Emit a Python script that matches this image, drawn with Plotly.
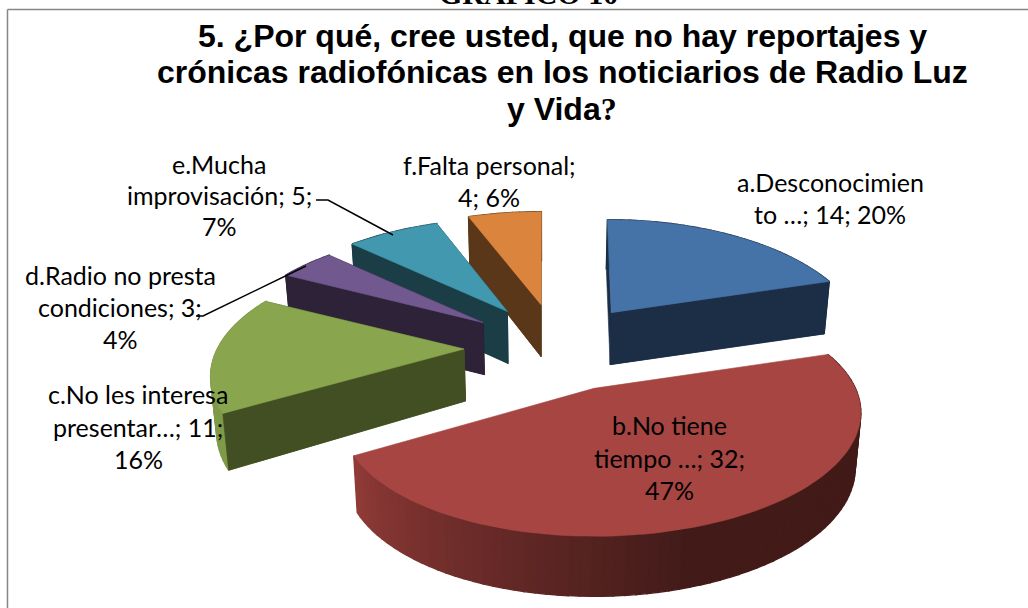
import math
import plotly.graph_objects as go

# ---- data ----
categories = ["a.Desconocimiento …", "b.No tiene tiempo …", "c.No les interesa presentar…",
              "d.Radio no presta condiciones", "e.Mucha improvisación", "f.Falta personal"]
values = [14, 32, 11, 3, 5, 4]
percent_labels = ["20%", "47%", "16%", "4%", "7%", "6%"]
label_lines = [
    ["a.Desconocimien", "to …; 14; 20%"],
    ["b.No tiene", "tiempo …; 32;", "47%"],
    ["c.No les interesa", "presentar…; 11;", "16%"],
    ["d.Radio no presta", "condiciones; 3;", "4%"],
    ["e.Mucha", "improvisación; 5;", "7%"],
    ["f.Falta personal;", "4; 6%"],
]
title_lines = ["5. ¿Por qué, cree usted, que no hay reportajes y",
               "crónicas radiofónicas en los noticiarios de Radio Luz",
               "y Vida<span style=\"font-family:Liberation Serif\">?</span>"]

# ---- style ----
top_colors = ["#4572A7", "#A64542", "#89A54E", "#71588F", "#4198AF", "#DB843D"]
wall_colors = ["#1B2E46", "#421B19", "#414F22", "#2D2237", "#1A3D46", "#5A3719"]
rim_colors = ["#1B2E46", None, "#7F9A48", "#2D2237", "#1A3D46", "#5A3719"]
pull_x = [108, 118, 83, 78, 71, 33]
rim_scale = [0.985, 1.02, 0.995, 1, 1, 1]
rim_dx = [0, 7, 0, 0, 0, 0]
rim_shear = [0, 0.012, 0, 0, 0, 0]
rim_skew = [0.06, 0, 0, 0.06, 0.06, 0.06]
draw_walls = [True, False, True, True, True, True]
label_centers = [(830, [182, 214]), (669, [425, 458, 490]), (138, [394, 427, 459]),
                 (120, [275, 307, 339]), (219, [164, 195, 226]), (489, [165, 197])]
title_center, title_ys = 562, [36, 72, 109]
paint_order = [0, 5, 4, 3, 2, 1]
CX, CY, PULL_Y = 547, 348, 44
A, B, Q = 248, 114.2, 0.228
THICK, SHRINK = 54, 0.018

total = sum(values)
edges = [0]
for v in values:
    edges.append(edges[-1] + v / total * 360)


def rim_top(ax, ay, deg, i):
    t = math.radians(deg)
    d = 1 + Q * math.cos(t)
    dx = A * rim_scale[i] * math.sin(t) / d
    x = ax + rim_dx[i] + dx - rim_skew[i] * (ax - CX) * math.cos(t)
    return x, ay - B * math.cos(t) / d - rim_shear[i] * dx


def drop(x, y, deg=None):
    h = THICK / (1 + 0.1 * math.cos(math.radians(deg))) if deg is not None else 52
    return x - SHRINK * (x - CX), y + h


def red_shade(deg):
    # side wall of the large slice darkens from its left end to the front
    f = max(0.0, min(1.0, (deg - 165) / 75))
    c0, c1 = (66, 27, 25), (145, 59, 56)
    return "rgb(%d,%d,%d)" % tuple(round(a + (b - a) * f) for a, b in zip(c0, c1))


def poly(xs, ys, color, name, width=0.6):
    return go.Scatter(x=xs, y=ys, mode="lines", fill="toself", fillcolor=color,
                      line=dict(color=color, width=width), hoverinfo="skip",
                      showlegend=False, name=name)


fig = go.Figure()
for i in paint_order:
    s, e = edges[i], edges[i + 1]
    mid = math.radians((s + e) / 2)
    ax = CX + pull_x[i] * math.sin(mid)
    ay = CY - PULL_Y * math.cos(mid)
    n = max(4, int((e - s) / 2))
    degs = [s + (e - s) * k / n for k in range(n + 1)]
    top = [rim_top(ax, ay, d, i) for d in degs]
    bot = [drop(*p, d) for p, d in zip(top, degs)]
    abot = drop(ax, ay)
    if draw_walls[i]:
        for p, b in ((top[0], bot[0]), (top[-1], bot[-1])):
            fig.add_trace(poly([p[0], ax, abot[0], b[0], p[0]], [p[1], ay, abot[1], b[1], p[1]],
                               wall_colors[i], categories[i]))
    for k in range(n):
        col = rim_colors[i] or red_shade((degs[k] + degs[k + 1]) / 2)
        fig.add_trace(poly([top[k][0], top[k + 1][0], bot[k + 1][0], bot[k][0], top[k][0]],
                           [top[k][1], top[k + 1][1], bot[k + 1][1], bot[k][1], top[k][1]],
                           col, categories[i], width=1.4))
    if draw_walls[i]:
        # the front cut face stays in front of the rim
        p, b = (top[0], bot[0]) if i != 0 else (top[-1], bot[-1])
        fig.add_trace(poly([p[0], ax, abot[0], b[0], p[0]], [p[1], ay, abot[1], b[1], p[1]],
                           wall_colors[i], categories[i]))
    fig.add_trace(poly([ax] + [p[0] for p in top] + [ax], [ay] + [p[1] for p in top] + [ay],
                       top_colors[i], categories[i]))

annotations = []
for lines, (cx, ys) in zip(label_lines, label_centers):
    for line, y in zip(lines, ys):
        annotations.append(dict(x=cx, y=y, text=line, showarrow=False, xanchor="center",
                                yanchor="middle", xref="x", yref="y",
                                font=dict(family="Lato", size=25, color="#000000")))
for line, y in zip(title_lines, title_ys):
    annotations.append(dict(x=title_center, y=y, text=line, showarrow=False, xanchor="center",
                            yanchor="middle", xref="x", yref="y",
                            font=dict(family="Liberation Sans", size=32, color="#000000",
                                      weight="bold")))
annotations.append(dict(x=528, y=0, yshift=7, text="GRAFICO 10", showarrow=False, xanchor="center",
                        yanchor="middle", xref="x", yref="y",
                        font=dict(family="Liberation Serif", size=30, color="#000000",
                                  weight="bold")))

line_black = dict(color="#000000", width=1.5)
shapes = [
    dict(type="line", xref="x", yref="y", x0=7.5, y0=608, x1=7.5, y1=9.5,
         line=dict(color="#868686", width=1.5)),
    dict(type="line", xref="x", yref="y", x0=7.5, y0=9.5, x1=1028, y1=9.5,
         line=dict(color="#868686", width=1.5)),
    dict(type="path", xref="x", yref="y", path="M316,200 L328,200 L393,235", line=line_black),
    dict(type="path", xref="x", yref="y", path="M196,316 L203,316 L306,266", line=line_black),
]

fig.update_layout(
    width=1028, height=608, margin=dict(l=0, r=0, t=0, b=0),
    paper_bgcolor="#FFFFFF", plot_bgcolor="#FFFFFF", showlegend=False,
    xaxis=dict(range=[0, 1028], visible=False, domain=[0, 1], fixedrange=True),
    yaxis=dict(range=[608, 0], visible=False, domain=[0, 1], fixedrange=True),
    annotations=annotations, shapes=shapes,
)
fig.write_html("out.html", config=dict(displayModeBar=False),
               post_script="document.body.style.margin='0';document.body.style.overflow='hidden';")
